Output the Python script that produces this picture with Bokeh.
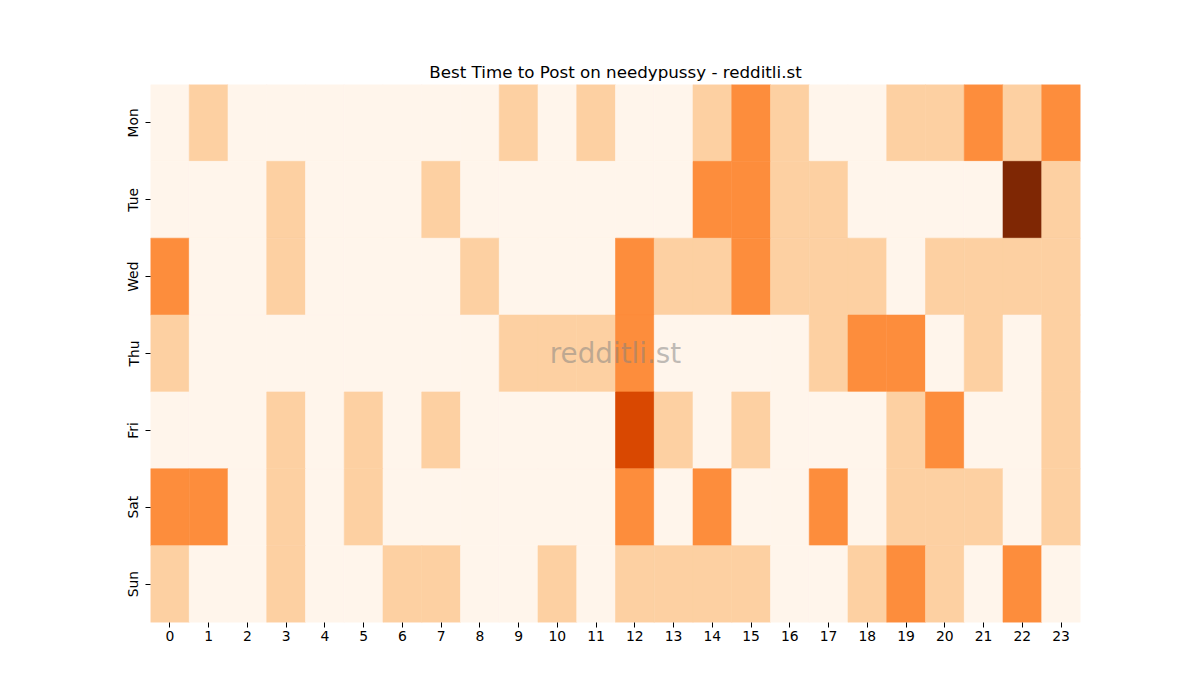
import math
from bokeh.plotting import figure
from bokeh.models import ColumnDataSource, LinearColorMapper, Label
from bokeh.transform import transform
from bokeh.embed import file_html
from bokeh.resources import INLINE

# hour columns and day rows, activity level per cell (0-4)
hours = [str(h) for h in range(24)]
days = ["Mon", "Tue", "Wed", "Thu", "Fri", "Sat", "Sun"]

mon = [0, 1, 0, 0, 0, 0, 0, 0, 0, 1, 0, 1, 0, 0, 1, 2, 1, 0, 0, 1, 1, 2, 1, 2]
tue = [0, 0, 0, 1, 0, 0, 0, 1, 0, 0, 0, 0, 0, 0, 2, 2, 1, 1, 0, 0, 0, 0, 4, 1]
wed = [2, 0, 0, 1, 0, 0, 0, 0, 1, 0, 0, 0, 2, 1, 1, 2, 1, 1, 1, 0, 1, 1, 1, 1]
thu = [1, 0, 0, 0, 0, 0, 0, 0, 0, 1, 1, 1, 2, 0, 0, 0, 0, 1, 2, 2, 0, 1, 0, 1]
fri = [0, 0, 0, 1, 0, 1, 0, 1, 0, 0, 0, 0, 3, 1, 0, 1, 0, 0, 0, 1, 2, 0, 0, 1]
sat = [2, 2, 0, 1, 0, 1, 0, 0, 0, 0, 0, 0, 2, 0, 2, 0, 0, 2, 0, 1, 1, 1, 0, 1]
sun = [1, 0, 0, 1, 0, 0, 1, 1, 0, 0, 1, 0, 1, 1, 1, 1, 0, 0, 1, 2, 1, 0, 2, 0]

rows = [mon, tue, wed, thu, fri, sat, sun]

# matplotlib "Oranges" sampled at 0, .25, .5, .75, 1
palette = ["#fff5eb", "#fdd0a2", "#fd8d3c", "#d94801", "#7f2704"]

xs, ys, vals = [], [], []
for day, row in zip(days, rows):
    for hour, v in zip(hours, row):
        xs.append(hour)
        ys.append(day)
        vals.append(v)
src = ColumnDataSource(dict(hour=xs, day=ys, val=vals))

mapper = LinearColorMapper(palette=palette, low=-0.5, high=4.5)

p = figure(x_range=hours, y_range=list(reversed(days)),
           frame_width=930, frame_height=538,
           min_border_left=150, min_border_right=104,
           min_border_top=84, min_border_bottom=62,
           output_backend="svg", toolbar_location=None,
           title="Best Time to Post on needypussy - redditli.st")

p.rect(x="hour", y="day", width=1, height=1, source=src,
       fill_color=transform("val", mapper),
       line_color=transform("val", mapper), line_width=0.6)

p.title.align = "center"
p.title.text_font = "DejaVu Sans"
p.title.text_font_size = "16.7px"
p.title.text_font_style = "normal"
p.title.text_color = "black"
p.title.standoff = 6

p.outline_line_color = None
p.grid.grid_line_color = None
for ax in (p.xaxis, p.yaxis):
    ax.axis_line_color = None
    ax.major_tick_in = 0
    ax.major_tick_out = 5
    ax.major_tick_line_color = "black"
    ax.minor_tick_line_color = None
    ax.major_label_text_font = "DejaVu Sans"
    ax.major_label_text_font_size = "13.9px"
    ax.major_label_text_color = "black"
p.xaxis.major_label_standoff = 3
p.yaxis.major_label_standoff = 4
p.yaxis.major_label_orientation = "vertical"

p.add_layout(Label(x=465, y=269, x_units="screen", y_units="screen",
                   text="redditli.st", text_align="center",
                   text_baseline="middle", text_font="DejaVu Sans",
                   text_font_size="27.8px", text_color="gray",
                   text_alpha=0.5))

open("out.html", "w").write(file_html(p, INLINE))
